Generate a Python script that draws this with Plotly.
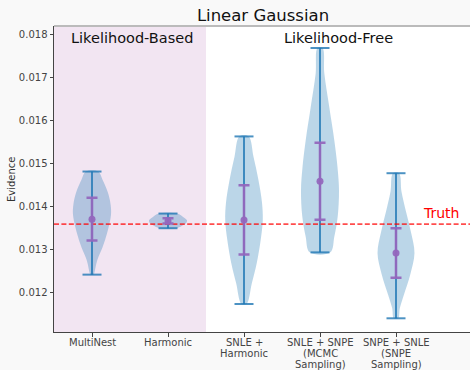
import plotly.graph_objects as go

# Evidence estimates for the linear Gaussian model
methods = ["MultiNest", "Harmonic", "SNLE +\nHarmonic",
           "SNLE + SNPE\n(MCMC\nSampling)", "SNPE + SNLE\n(SNPE\nSampling)"]
positions = [1, 2, 3, 4, 5]
ev_min = [0.01242, 0.013498, 0.011738, 0.012937, 0.011406]
ev_max = [0.014814, 0.013838, 0.015629, 0.017682, 0.014775]
ev_mean = [0.013708, 0.013668, 0.013691, 0.014590, 0.012923]
ev_std = [0.000497, 0.000063, 0.000806, 0.000893, 0.000575]
truth = 0.013592

# Violin outlines: evidence levels and density half-widths (in x units)
multinest_levels = [0.014814, 0.01462, 0.01432, 0.01404, 0.01381, 0.01339, 0.01306, 0.01276, 0.01246, 0.01242]
multinest_widths = [0.08, 0.14, 0.21, 0.245, 0.25, 0.20, 0.14, 0.07, 0.03, 0.02]
harmonic_levels = [0.013838, 0.01377, 0.01368, 0.01362, 0.01355, 0.013498]
harmonic_widths = [0.12, 0.19, 0.25, 0.24, 0.18, 0.11]
snle_harm_levels = [0.015629, 0.01516, 0.01462, 0.01409, 0.01369, 0.01323, 0.01269, 0.01222, 0.011738]
snle_harm_widths = [0.06, 0.125, 0.19, 0.237, 0.247, 0.22, 0.168, 0.103, 0.033]
snle_snpe_levels = [0.017682, 0.01709, 0.01631, 0.01554, 0.01492, 0.01438, 0.01377, 0.0133, 0.012937]
snle_snpe_widths = [0.033, 0.057, 0.122, 0.188, 0.23, 0.25, 0.233, 0.188, 0.135]
snpe_snle_levels = [0.014775, 0.01435, 0.01388, 0.01342, 0.01292, 0.01242, 0.01195, 0.01164, 0.011406]
snpe_snle_widths = [0.04, 0.072, 0.132, 0.195, 0.243, 0.187, 0.103, 0.05, 0.029]

violin_levels = [multinest_levels, harmonic_levels, snle_harm_levels, snle_snpe_levels, snpe_snle_levels]
violin_widths = [multinest_widths, harmonic_widths, snle_harm_widths, snle_snpe_widths, snpe_snle_widths]

y_ticks = [0.012, 0.013, 0.014, 0.015, 0.016, 0.017, 0.018]

BODY = "rgba(31,119,180,0.3)"
EXTREMA = "rgba(31,119,180,0.8)"
PURPLE = "rgba(148,103,189,0.95)"
FONT = "DejaVu Sans"
CAP = 0.125

fig = go.Figure()

# Likelihood-based region shading
fig.add_shape(type="rect", xref="x", yref="paper", x0=0.5, x1=2.5, y0=0, y1=1,
              fillcolor="rgba(128,0,128,0.1)", line_width=0, layer="below")

# Violin bodies
for pos, lev, wid in zip(positions, violin_levels, violin_widths):
    xs = [pos + w for w in wid] + [pos - w for w in reversed(wid)]
    ys = list(lev) + list(reversed(lev))
    fig.add_trace(go.Scatter(x=xs + [xs[0]], y=ys + [ys[0]], mode="lines", fill="toself",
                             fillcolor=BODY, line=dict(width=0, shape="spline", smoothing=1.0),
                             hoverinfo="skip", showlegend=False))

# Extrema bars and caps
for pos, lo, hi in zip(positions, ev_min, ev_max):
    fig.add_trace(go.Scatter(x=[pos, pos], y=[lo, hi], mode="lines",
                             line=dict(color=EXTREMA, width=2), showlegend=False, hoverinfo="skip"))
    for v in (lo, hi):
        fig.add_trace(go.Scatter(x=[pos - CAP, pos + CAP], y=[v, v], mode="lines",
                                 line=dict(color=EXTREMA, width=2), showlegend=False, hoverinfo="skip"))

# Truth line
fig.add_trace(go.Scatter(x=[0.5, 6.0], y=[truth, truth], mode="lines",
                         line=dict(color="rgba(255,0,0,0.7)", width=1.6, dash="5px,2.4px"),
                         showlegend=False, hoverinfo="skip"))

# Mean +/- std
fig.add_trace(go.Scatter(x=positions, y=ev_mean, mode="markers",
                         marker=dict(color=PURPLE, size=7),
                         error_y=dict(type="data", array=ev_std, color=PURPLE, thickness=2.5, width=5.5),
                         showlegend=False))

annotations = [
    dict(text="Likelihood-Based", x=1.52, y=1 - 12 / 306, xref="x", yref="paper",
         showarrow=False, font=dict(family=FONT, size=14.5, color="#111"), yanchor="middle"),
    dict(text="Likelihood-Free", x=4.24, y=1 - 12 / 306, xref="x", yref="paper",
         showarrow=False, font=dict(family=FONT, size=14.5, color="#111"), yanchor="middle"),
    dict(text="Truth", x=5.6, y=truth, xref="x", yref="y", showarrow=False,
         font=dict(family=FONT, size=14, color="red"), yanchor="bottom", yshift=1),
    dict(text="Evidence", x=(11 - 54) / 416, y=0.5, xref="paper", yref="paper", textangle=-90,
         showarrow=False, font=dict(family=FONT, size=10, color="#333"),
         xanchor="center", yanchor="middle"),
]

# Category labels, one line at a time
for pos, name in zip(positions, methods):
    for i, line in enumerate(name.split("\n")):
        annotations.append(dict(text=line, x=pos, xref="x", y=0, yref="paper",
                                yanchor="middle", yshift=-(10 + 11 * i), showarrow=False,
                                font=dict(family=FONT, size=10, color="#444")))

fig.update_layout(
    width=470, height=370,
    margin=dict(l=54, r=0, t=26, b=38),
    paper_bgcolor="#f9f9f9", plot_bgcolor="white",
    title=dict(text="Linear Gaussian", x=263 / 470, xanchor="center", xref="container",
               y=1 - 15 / 370, yanchor="middle", yref="container",
               font=dict(family=FONT, size=16.5, color="#111")),
    annotations=annotations,
    xaxis=dict(range=[0.5, 0.5 + 416 / 76], tickvals=positions, showticklabels=False,
               ticks="outside", ticklen=3.5, tickcolor="#444", showline=True, linecolor="#444",
               linewidth=1, showgrid=False, zeroline=False),
    yaxis=dict(range=[0.011088, 0.018193], tickvals=y_ticks,
               ticktext=[f"{v:.3f}" for v in y_ticks], ticks="outside", ticklen=3.5,
               tickcolor="#444", showline=True, linecolor="#444", linewidth=1,
               showgrid=False, zeroline=False, tickfont=dict(family=FONT, size=10, color="#444")),
    shapes=list(fig.layout.shapes) + [
        dict(type="line", xref="paper", yref="paper", x0=0, x1=1, y0=1, y1=1,
             line=dict(color="#bbbbbb", width=2))
    ],
)

fig.write_html("out.html")
